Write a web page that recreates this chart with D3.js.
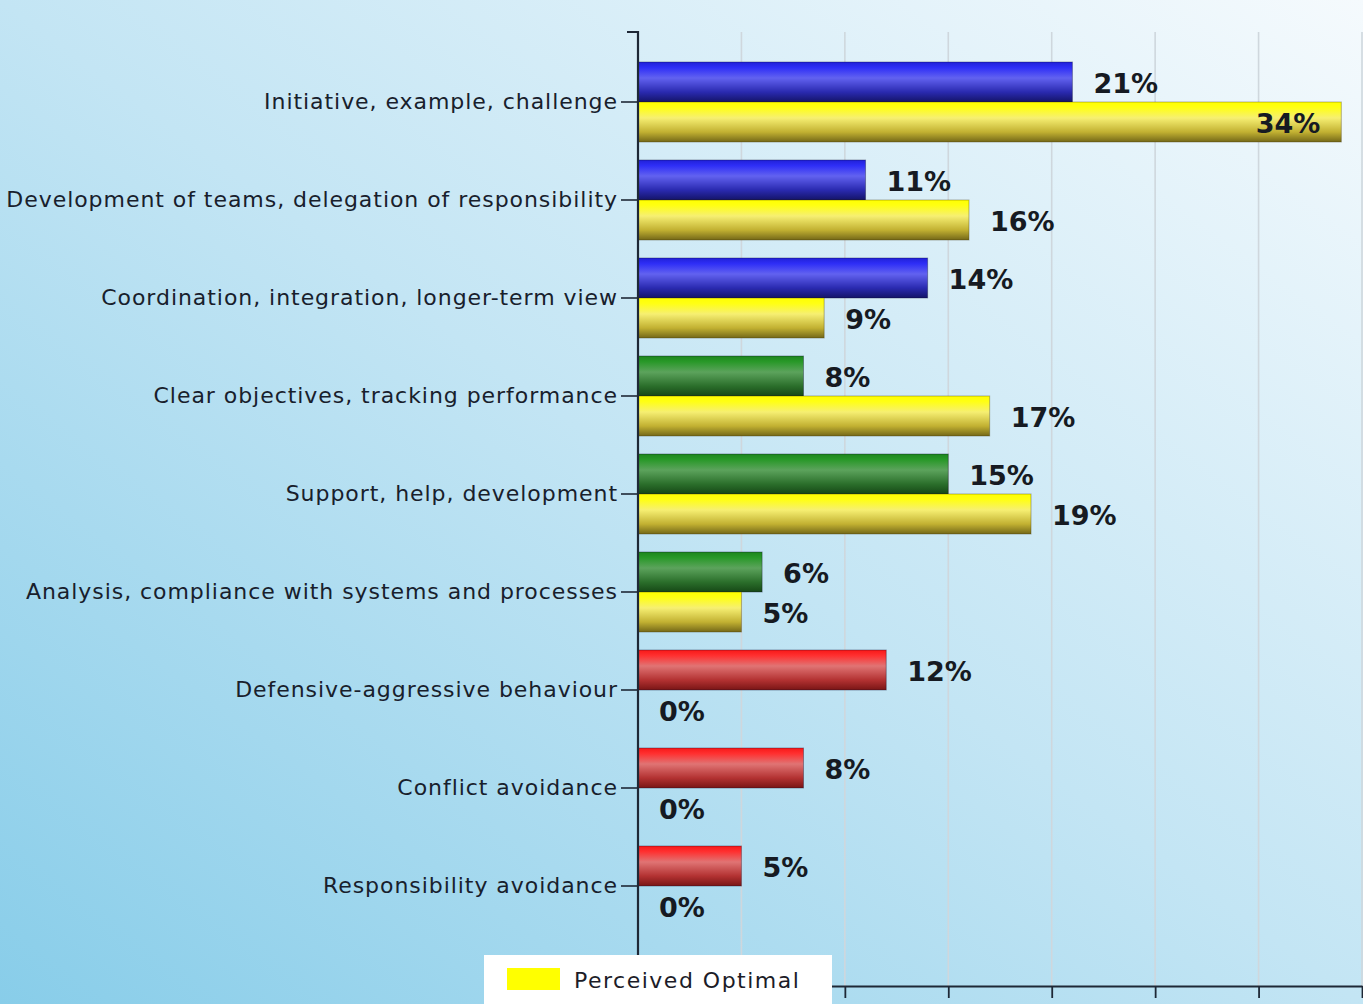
<!DOCTYPE html>
<html>
<head>
<meta charset="utf-8">
<script src="https://cdn.jsdelivr.net/npm/d3@7/dist/d3.min.js"></script>
<style>
  html, body { margin: 0; padding: 0; overflow: hidden; }
  svg { display: block; }
</style>
</head>
<body>
<svg id="chart" width="1363" height="1004"></svg>
<script>
// Leadership behaviour profile: current share vs. perceived optimal share
const categories = [
  "Initiative, example, challenge",
  "Development of teams, delegation of responsibility",
  "Coordination, integration, longer-term view",
  "Clear objectives, tracking performance",
  "Support, help, development",
  "Analysis, compliance with systems and processes",
  "Defensive-aggressive behaviour",
  "Conflict avoidance",
  "Responsibility avoidance"
];
const currentValues = [21, 11, 14, 8, 15, 6, 12, 8, 5];
const optimalValues = [34, 16, 9, 17, 19, 5, 0, 0, 0];
const styleGroups = ["blue", "blue", "blue", "green", "green", "green", "red", "red", "red"];
const xTicks = [0, 5, 10, 15, 20, 25, 30, 35];
const legendLabels = ["Perceived Optimal"];

const W = 1363, H = 1004;
const svg = d3.select("#chart");
const defs = svg.append("defs");

// background wash: saturated sky blue bottom-left fading to white top-right
const bg = defs.append("linearGradient").attr("id", "bg")
  .attr("x1", 0).attr("y1", 1).attr("x2", 1).attr("y2", 0);
bg.append("stop").attr("offset", 0).attr("stop-color", "#88cde9");
bg.append("stop").attr("offset", 0.5).attr("stop-color", "#c3e5f4");
bg.append("stop").attr("offset", 1).attr("stop-color", "#f5fafd");
svg.append("rect").attr("width", W).attr("height", H).attr("fill", "url(#bg)");

// glossy cylinder-like fills for the bars
const palettes = {
  blue:   ["#2020d8", "#2e2ef6", "#6262f0", "#2a2ab0", "#141468"],
  green:  ["#1d861d", "#289828", "#5ca35c", "#2b6f2b", "#164816"],
  red:    ["#f81818", "#ff3030", "#e07474", "#b33232", "#791515"],
  yellow: ["#ffff00", "#ffff14", "#f6ef72", "#c2b132", "#746818"]
};
Object.entries(palettes).forEach(([name, c]) => {
  const g = defs.append("linearGradient").attr("id", "grad-" + name)
    .attr("x1", 0).attr("y1", 0).attr("x2", 0).attr("y2", 1);
  [0, 0.14, 0.4, 0.75, 1].forEach((o, i) =>
    g.append("stop").attr("offset", o).attr("stop-color", c[i]));
});

const plot = { left: 638, right: 1362, top: 32, bottom: 986 };

const x = d3.scaleLinear().domain([0, 35]).range([plot.left, plot.right]);
const y = d3.scaleBand().domain(categories).range([53, 935]).paddingInner(0);
const barH = 40;

// vertical gridlines
svg.append("g").selectAll("line")
  .data(xTicks.filter(t => t > 0))
  .join("line")
  .attr("x1", d => x(d)).attr("x2", d => x(d))
  .attr("y1", plot.top).attr("y2", plot.bottom)
  .attr("stroke", "#cfd7dd").attr("stroke-width", 1.6);

const rows = categories.map((c, i) => ({
  cat: c, cur: currentValues[i], opt: optimalValues[i], grp: styleGroups[i]
}));

const mid = d => y(d.cat) + y.bandwidth() / 2;

// current bars (upper)
svg.append("g").selectAll("rect")
  .data(rows).join("rect")
  .attr("x", x(0))
  .attr("y", d => mid(d) - barH)
  .attr("width", d => x(d.cur) - x(0))
  .attr("height", barH)
  .attr("fill", d => "url(#grad-" + d.grp + ")")
  .attr("stroke", "rgba(10,10,40,0.35)").attr("stroke-width", 1);

// perceived optimal bars (lower)
svg.append("g").selectAll("rect")
  .data(rows.filter(d => d.opt > 0)).join("rect")
  .attr("x", x(0))
  .attr("y", d => mid(d))
  .attr("width", d => x(d.opt) - x(0))
  .attr("height", barH)
  .attr("fill", "url(#grad-yellow)")
  .attr("stroke", "rgba(60,50,10,0.35)").attr("stroke-width", 1);

// value labels
const labelFont = "bold 27px 'DejaVu Sans', Verdana, sans-serif";
const gap = 21;
function placeLabels(key, offset) {
  svg.append("g").selectAll("text")
    .data(rows).join("text")
    .style("font", labelFont)
    .attr("fill", "#161a22")
    .attr("y", d => mid(d) + offset)
    .attr("dy", "0.36em")
    .text(d => d[key] + "%")
    .each(function (d) {
      const t = d3.select(this);
      const end = x(d[key]);
      const w = this.getComputedTextLength();
      if (end + gap + w > W - 4) {
        t.attr("x", end - gap).attr("text-anchor", "end");
      } else {
        t.attr("x", end + gap).attr("text-anchor", "start");
      }
    });
}
placeLabels("cur", -barH / 2 + 1);
placeLabels("opt", barH / 2 + 1);

// category axis
const yAxis = svg.append("g")
  .attr("transform", `translate(${plot.left},0)`)
  .call(d3.axisLeft(y).tickSize(17).tickSizeOuter(0).tickPadding(3));
yAxis.select(".domain").remove();
yAxis.selectAll(".tick line").attr("stroke", "#1e2836").attr("stroke-width", 1.6);
yAxis.selectAll(".tick text")
  .style("font", "22px 'DejaVu Sans', Verdana, sans-serif")
  .style("letter-spacing", "0.95px")
  .attr("fill", "#18202c");
svg.append("path")
  .attr("d", `M${plot.left - 11},${plot.top}H${plot.left}V${plot.bottom}`)
  .attr("fill", "none").attr("stroke", "#1e2836").attr("stroke-width", 2.2);

// value axis along the bottom
const xAxis = svg.append("g")
  .attr("transform", `translate(0,${plot.bottom})`)
  .call(d3.axisBottom(x).tickValues(xTicks).tickSize(12).tickSizeOuter(0).tickFormat(""));
xAxis.select(".domain").attr("stroke", "#1e2836").attr("stroke-width", 2.2);
xAxis.selectAll(".tick line").attr("stroke", "#1e2836").attr("stroke-width", 1.8);

// legend
const legend = svg.append("g");
legend.append("rect")
  .attr("x", 484).attr("y", 955).attr("width", 348).attr("height", 60)
  .attr("fill", "#ffffff");
legend.selectAll("g.item")
  .data(legendLabels).join("g").attr("class", "item")
  .each(function (d) {
    const g = d3.select(this);
    g.append("rect").attr("x", 507).attr("y", 968).attr("width", 53).attr("height", 22)
      .attr("fill", "#ffff00");
    g.append("text").attr("x", 574).attr("y", 988)
      .style("font", "22px 'DejaVu Sans', Verdana, sans-serif")
      .style("letter-spacing", "1.5px")
      .attr("fill", "#1c1c28")
      .text(d);
  });
</script>
</body>
</html>
